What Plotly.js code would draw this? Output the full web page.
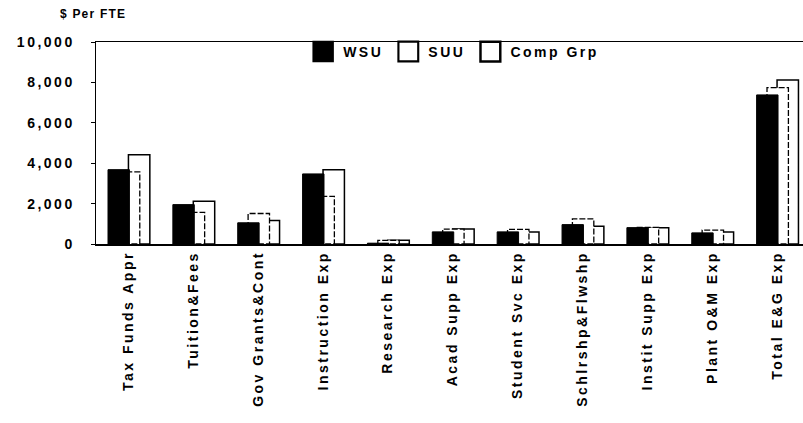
<!DOCTYPE html>
<html>
<head>
<meta charset="utf-8">
<script src="https://cdn.plot.ly/plotly-3.0.1.min.js"></script>
<style>
  html, body { margin: 0; padding: 0; background: #fff; }
  #chart { width: 803px; height: 423px; }
  text { letter-spacing: 2.5px; }
  .annotation-text { letter-spacing: 1.2px; }
  .barlayer .trace:nth-child(2) path { stroke-dasharray: 6 2; }
  .legendpoints path { transform: translate(20px, 0px) scale(1.65); }
</style>
</head>
<body>
<div id="chart"></div>
<script>
const categories = ["Tax Funds Appr", "Tuition&Fees", "Gov Grants&Cont", "Instruction Exp", "Research Exp",
  "Acad Supp Exp", "Student Svc Exp", "Schlrshp&Flwshp", "Instit Supp Exp", "Plant O&M Exp", "Total E&G Exp"];
const wsu  = [3680, 1950, 1050, 3470,  40, 600, 600,  960, 810, 550, 7380];
const suu  = [3570, 1570, 1510, 2360, 180, 740, 720, 1240, 820, 690, 7740];
const comp = [4420, 2120, 1160, 3680, 180, 740, 600,  880, 800, 600, 8120];
const yTicks = [0, 2000, 4000, 6000, 8000, 10000];
const yTickText = ["0", "2,000", "4,000", "6,000", "8,000", "10,000"];

const font = {family: "Liberation Sans, Arial, sans-serif", size: 14, color: "#000", weight: "bold"};
const barWidth = 0.33;

const traces = [
  {type: "bar", name: "Comp Grp", x: categories, y: comp, legendrank: 3,
   width: barWidth, offset: 0.0,
   marker: {color: "#fff", line: {color: "#000", width: 1.5}}},
  {type: "bar", name: "SUU", x: categories, y: suu, legendrank: 2,
   width: barWidth, offset: -0.155,
   marker: {color: "#fff", line: {color: "#000", width: 1.3}}},
  {type: "bar", name: "WSU", x: categories, y: wsu, legendrank: 1,
   width: barWidth, offset: -0.315,
   marker: {color: "#000", line: {color: "#000", width: 1}}}
];

const layout = {
  width: 803, height: 423,
  margin: {l: 96, r: 0, t: 42, b: 179},
  paper_bgcolor: "#fff", plot_bgcolor: "#fff",
  font: font,
  barmode: "overlay",
  showlegend: true,
  legend: {orientation: "h", x: 0.293, y: 1.03, xanchor: "left", yanchor: "top",
           font: font, bgcolor: "rgba(0,0,0,0)", itemwidth: 30, tracegroupgap: 0,
           traceorder: "normal"},
  xaxis: {type: "category", range: [-0.5, 10.4], showline: true, mirror: true,
          linecolor: "#000", linewidth: 1.5, ticks: "", tickangle: -90,
          ticklabelstandoff: 0, showgrid: false, zeroline: false, fixedrange: true, automargin: false,
          tickfont: font},
  yaxis: {range: [0, 10000], tickvals: yTicks, ticktext: yTickText, showline: true,
          linecolor: "#000", linewidth: 1.5, ticks: "outside", ticklen: 4, tickcolor: "#000",
          ticklabelstandoff: 13, showgrid: false, zeroline: false, automargin: false,
          tickfont: font},
  annotations: [{text: "$ Per FTE", xref: "paper", yref: "paper", x: -0.054, y: 1.138,
                 xanchor: "left", yanchor: "middle", showarrow: false,
                 font: {family: font.family, size: 12, color: "#000", weight: "bold"}}]
};

Plotly.newPlot("chart", traces, layout, {displayModeBar: false, staticPlot: true});
</script>
</body>
</html>
